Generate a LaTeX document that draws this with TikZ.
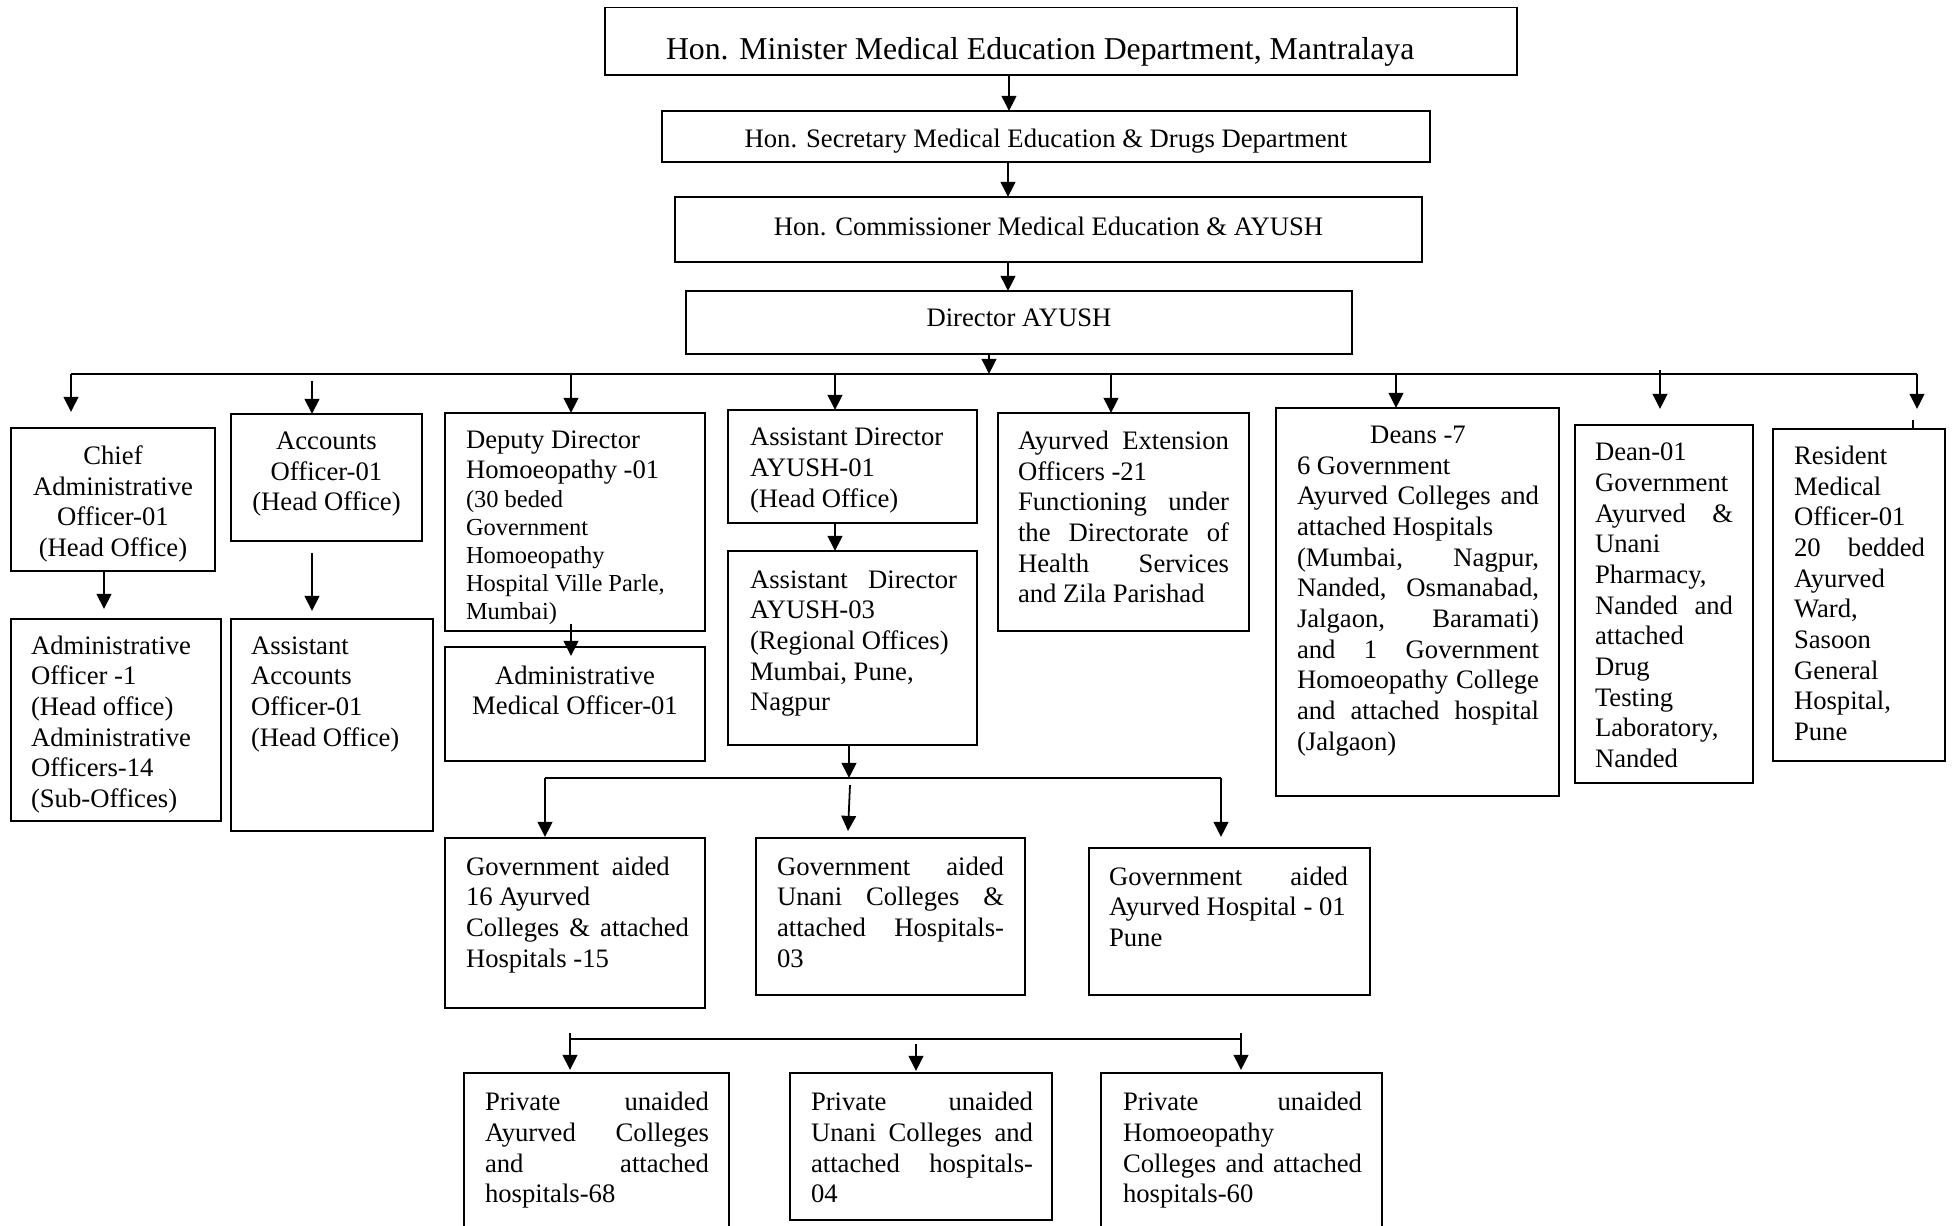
\documentclass[tikz,border=0pt]{standalone}
\usepackage{fontspec}
\setmainfont{Liberation Serif}
\usetikzlibrary{arrows.meta,calc}
\newdimen\pxu \pxu=0.45pt
% W H T L R content   (all in reference pixels)
\newcommand\bxt[6]{\parbox[c][#2\pxu][t]{#1\pxu}{\vspace*{#3\pxu}\hspace*{#4\pxu}\parbox[t]{\dimexpr#1\pxu-#4\pxu-#5\pxu\relax}{\rule{0pt}{22\pxu}#6}}}
\newcommand\J[1]{\makebox[\hsize][s]{#1}}
\tikzset{
  bx/.style={draw, line width=0.8pt, inner sep=0pt, outer sep=0pt, anchor=north west},
  ln/.style={line width=0.8pt},
  arr/.style={line width=0.8pt, -{Triangle[length=6.8pt,width=6.6pt]}}
}
\begin{document}
\begin{tikzpicture}[x=0.45pt, y=-0.45pt, font=\fontsize{12}{13.8}\selectfont]
\useasboundingbox (0,0) rectangle (1956,1225);
\fill[white] (0,0) rectangle (1956,1225);
\clip (0,0) rectangle (1956,1225);

% top chain
\node[bx] (min) at (605,7.5) {\bxt{912}{67.5}{30}{61}{0}{\fontsize{14.3}{16.4}\selectfont Hon. Minister Medical Education Department, Mantralaya}};
\node[bx] (sec) at (662,111) {\bxt{768}{51}{14.8}{0}{0}{\centering Hon. Secretary Medical Education \& Drugs Department}};
\node[bx] (com) at (675,197) {\bxt{747}{65}{16}{0}{0}{\centering Hon. Commissioner Medical Education \& AYUSH}};
\node[bx] (dir) at (686,291) {\bxt{666}{63}{13}{0}{0}{\centering Director AYUSH}};

% second level
\node[bx] (chief) at (11,428) {\bxt{204}{143}{14.6}{0}{0}{\centering Chief\\Administrative\\Officer-01\\(Head Office)}};
\node[bx] (acc) at (231,414) {\bxt{191}{127}{13.6}{0}{0}{\centering Accounts\\Officer-01\\(Head Office)}};
\node[bx] (dd) at (445,413) {\bxt{260}{218}{13.3}{21}{5}{Deputy Director\\Homoeopathy -01\par\fontsize{11}{12.65}\selectfont (30 beded\\Government\\Homoeopathy\\Hospital Ville Parle,\\Mumbai)}};
\node[bx] (ad1) at (728,410) {\bxt{249}{113}{13.9}{22}{5}{Assistant Director\\AYUSH-01\\(Head Office)}};
\node[bx] (ext) at (998,413) {\bxt{251}{218}{14.6}{20}{20}{\J{Ayurved Extension}\\Officers -21\\\J{Functioning under}\\\J{the Directorate of}\\\J{Health Services}\\and Zila Parishad}};
\node[bx] (deans) at (1276,408) {\bxt{283}{388}{13.4}{21}{20}{\makebox[\hsize][c]{Deans -7}\\6 Government\\\J{Ayurved Colleges and}\\attached Hospitals\\\J{(Mumbai, Nagpur,}\\\J{Nanded, Osmanabad,}\\\J{Jalgaon, Baramati)}\\\J{and 1 Government}\\\J{Homoeopathy College}\\\J{and attached hospital}\\(Jalgaon)}};
\node[bx] (dean1) at (1575,425) {\bxt{178}{358}{13.9}{20}{20}{Dean-01\\Government\\\J{Ayurved \&}\\Unani\\Pharmacy,\\\J{Nanded and}\\attached\\Drug\\Testing\\Laboratory,\\Nanded}};
\node[bx] (res) at (1773,429) {\bxt{172}{332}{13.6}{21}{20}{Resident\\Medical\\Officer-01\\\J{20 bedded}\\Ayurved\\Ward,\\Sasoon\\General\\Hospital,\\Pune}};

% third level
\node[bx] (adm) at (11,619) {\bxt{210}{202}{13.2}{20}{5}{Administrative\\Officer -1\\(Head office)\\Administrative\\Officers-14\\(Sub-Offices)}};
\node[bx] (aacc) at (231,619) {\bxt{202}{212}{13.2}{20}{5}{Assistant\\Accounts\\Officer-01\\(Head Office)}};
\node[bx] (amo) at (445,647) {\bxt{260}{114}{15}{0}{0}{\centering Administrative\\Medical Officer-01}};
\node[bx] (ad3) at (728,551) {\bxt{249}{194}{15}{22}{20}{\J{Assistant Director}\\AYUSH-03\\(Regional Offices)\\Mumbai, Pune,\\Nagpur}};

% government aided
\node[bx] (ga16) at (445,838) {\bxt{260}{170}{15}{21}{16}{Government\hspace{6\pxu} aided\\16 Ayurved\\\J{Colleges \& attached}\\Hospitals -15}};
\node[bx] (gaun) at (756,838) {\bxt{269}{157}{15}{21}{21}{\J{Government aided}\\\J{Unani Colleges \&}\\\J{attached Hospitals-}\\03}};
\node[bx] (gah) at (1089,848) {\bxt{281}{147}{15}{20}{22}{\J{Government aided}\\Ayurved Hospital - 01\\Pune}};

% private unaided
\node[bx] (pa) at (464,1073) {\bxt{265}{170}{15.8}{21}{20}{\J{Private unaided}\\\J{Ayurved Colleges}\\\J{and attached}\\hospitals-68}};
\node[bx] (pu) at (790,1073) {\bxt{262}{147}{15.8}{21}{19}{\J{Private unaided}\\\J{Unani Colleges and}\\\J{attached hospitals-}\\04}};
\node[bx] (ph) at (1101,1073) {\bxt{281}{170}{15.8}{22}{20}{\J{Private unaided}\\Homoeopathy\\\J{Colleges and attached}\\hospitals-60}};

% buses
\coordinate (b1L) at (71,374);
\coordinate (b1R) at (1917,374);
\coordinate (b2L) at (545,778);
\coordinate (b2R) at (1221,778);
\coordinate (b3L) at (570,1039);
\coordinate (b3R) at (1241,1039);

% top chain connectors
\draw[arr] ($(min.south west)+(404,0)$) -- ($(sec.north west)+(347,0)$);
\draw[arr] ($(sec.south west)+(346,0)$) -- ($(com.north west)+(333,0)$);
\draw[arr] ($(com.south west)+(333,0)$) -- ($(dir.north west)+(322,0)$);
\draw[arr] ($(dir.south west)+(303,0)$) -- ($(b1L)+(918,0)$);

% main bus and drops
\draw[ln] (b1L) -- (b1R);
\draw[arr] (b1L) -- ($(chief.north west)+(60,-16)$);
\draw[arr] ($(b1L)+(241,7)$) -- ($(acc.north west)+(81,0)$);
\draw[arr] ($(b1L)+(500,0)$) -- ($(dd.north west)+(126,0)$);
\draw[arr] ($(b1L)+(764,0)$) -- ($(ad1.north west)+(107,0)$);
\draw[arr] ($(b1L)+(1040,0)$) -- ($(ext.north west)+(113,0)$);
\draw[arr] ($(b1L)+(1325,0)$) -- ($(deans.north west)+(120,0)$);
\draw[arr] ($(b1L)+(1589,-4)$) -- ($(dean1.north west)+(85,-16)$);
\draw[arr] (b1R) -- ($(res.north west)+(144,-20)$);
\draw[ln] ($(res.north west)+(140,0)$) -- ($(res.north west)+(140,-9)$);

% second level connectors
\draw[arr] ($(chief.south west)+(93,0)$) -- ($(adm.north west)+(93,-10)$);
\draw[arr] ($(acc.south west)+(81,12)$) -- ($(aacc.north west)+(81,-8)$);
\draw[arr] ($(dd.south west)+(126,-7)$) -- ($(amo.north west)+(126,9)$);
\draw[arr] ($(ad1.south west)+(107,0)$) -- ($(ad3.north west)+(107,0)$);
\draw[arr] ($(ad3.south west)+(121,0)$) -- ($(b2L)+(304,0)$);

% government aided bus
\draw[ln] (b2L) -- (b2R);
\draw[arr] (b2L) -- ($(ga16.north west)+(100,-1)$);
\draw[arr] ($(b2L)+(305,7)$) -- ($(gaun.north west)+(92,-7)$);
\draw[arr] (b2R) -- ($(gah.north west)+(132,-11)$);

% private unaided bus
\draw[ln] (b3L) -- (b3R);
\draw[arr] ($(b3L)+(0,-6)$) -- ($(pa.north west)+(106,-3)$);
\draw[arr] ($(b3L)+(346,5)$) -- ($(pu.north west)+(126,-2)$);
\draw[arr] ($(b3R)+(0,-6)$) -- ($(ph.north west)+(140,-3)$);
\end{tikzpicture}
\end{document}
